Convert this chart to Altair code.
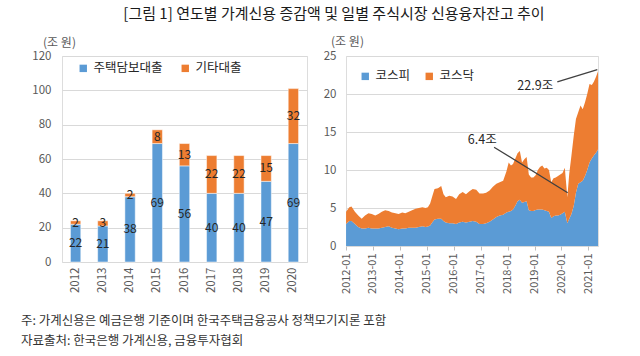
import altair as alt
import pandas as pd

FONT = "Noto Sans CJK KR"
BLUE = "#5B9BD5"
ORANGE = "#ED7D31"
TXT = "#262626"
AXC = "#595959"

title_text = "[그림 1] 연도별 가계신용 증감액 및 일별 주식시장 신용융자잔고 추이"
note1 = "주: 가계신용은 예금은행 기준이며 한국주택금융공사 정책모기지론 포함"
note2 = "자료출처: 한국은행 가계신용, 금융투자협회"

# ---- left panel data ----
years = ["2012", "2013", "2014", "2015", "2016", "2017", "2018", "2019", "2020"]
mortgage = [22, 21, 38, 69, 56, 40, 40, 47, 69]
other = [2, 3, 2, 8, 13, 22, 22, 15, 32]
loan_types = ["주택담보대출", "기타대출"]

# ---- right panel data ----
dates = [
    "2012-01-02", "2012-02-15", "2012-03-15", "2012-05-01", "2012-06-15", "2012-08-01",
    "2012-09-15", "2012-11-01", "2012-12-15", "2013-02-01", "2013-03-15", "2013-05-01",
    "2013-06-15", "2013-08-01", "2013-09-15", "2013-11-01", "2013-12-15", "2014-02-01",
    "2014-03-15", "2014-05-01", "2014-06-15", "2014-08-01", "2014-09-15", "2014-11-01",
    "2014-12-15", "2015-01-15", "2015-02-15", "2015-03-15", "2015-04-15", "2015-06-01",
    "2015-07-15", "2015-08-15", "2015-09-15", "2015-11-01", "2015-12-15", "2016-02-01",
    "2016-03-15", "2016-05-01", "2016-06-15", "2016-08-01", "2016-09-15", "2016-11-01",
    "2016-12-15", "2017-02-01", "2017-03-15", "2017-05-01", "2017-06-15", "2017-08-01",
    "2017-09-15", "2017-11-01", "2017-12-15", "2018-01-15", "2018-02-15", "2018-03-15",
    "2018-04-15", "2018-05-15", "2018-06-15", "2018-07-15", "2018-08-15", "2018-09-15",
    "2018-10-15", "2018-11-15", "2018-12-15", "2019-01-15", "2019-02-15", "2019-03-15",
    "2019-04-15", "2019-05-15", "2019-06-15", "2019-07-15", "2019-08-15", "2019-09-15",
    "2019-10-15", "2019-11-15", "2019-12-15", "2020-01-15", "2020-02-15", "2020-03-20",
    "2020-04-15", "2020-05-15", "2020-06-15", "2020-07-15", "2020-08-15", "2020-09-15",
    "2020-10-15", "2020-11-15", "2020-12-15", "2021-01-15", "2021-02-15", "2021-03-15",
    "2021-04-15", "2021-05-10",
]
kospi = [
    2.9, 3.3, 3.3, 2.9, 2.5, 2.3,
    2.3, 2.4, 2.3, 2.3, 2.3, 2.4,
    2.5, 2.6, 2.4, 2.3, 2.2, 2.3,
    2.3, 2.4, 2.4, 2.4, 2.5, 2.6,
    2.5, 2.55, 2.7, 3.1, 3.5, 3.6,
    3.6, 3.3, 3.1, 3.0, 3.0, 2.9,
    3.1, 3.2, 3.1, 3.2, 3.3, 3.2,
    2.9, 2.9, 3.0, 3.2, 3.5, 3.8,
    4.0, 4.1, 4.4, 4.5, 4.6, 4.8,
    5.3, 5.9, 6.1, 5.7, 5.8, 5.9,
    4.7, 4.6, 4.6, 4.75, 4.8, 4.8,
    4.8, 4.7, 4.6, 4.5, 3.7, 3.9,
    4.0, 4.0, 4.1, 4.3, 4.5, 3.0,
    3.6, 4.2, 5.3, 7.0, 8.2, 8.4,
    8.6, 9.2, 10.0, 11.0, 11.5, 11.9,
    12.3, 12.7,
]
kosdaq = [
    1.6, 1.8, 1.9, 1.6, 1.5, 1.3,
    1.7, 1.9, 1.9, 1.7, 1.9, 2.1,
    2.2, 2.0, 2.0, 2.0, 2.0, 2.1,
    2.0, 2.1, 2.3, 2.5, 2.5, 2.5,
    2.5, 2.55, 2.9, 3.4, 4.0, 4.0,
    4.3, 3.5, 3.3, 3.6, 3.5, 3.3,
    3.7, 3.9, 3.7, 4.0, 4.2, 4.2,
    4.0, 4.0, 4.0, 4.1, 4.3, 4.4,
    4.4, 4.5, 5.4, 6.5, 6.0, 6.0,
    6.2, 6.3, 6.4, 5.3, 5.6, 5.8,
    4.7, 4.4, 4.4, 4.55, 5.2, 5.6,
    5.8, 5.5, 5.7, 5.5, 4.7, 5.0,
    5.0, 5.2, 5.3, 5.3, 5.8, 3.4,
    5.9, 7.7, 9.2, 9.7, 9.4, 10.1,
    9.4, 9.7, 10.0, 10.3, 9.7, 9.7,
    10.0, 10.3,
]
markets = ["코스피", "코스닥"]

# annotations (label text, label position, leader line)
ann_text = ["22.9조", "6.4조"]
ann_text_date = ["2019-01-10", "2017-01-22"]
ann_text_val = [21.1, 14.0]
ann_line_from_date = ["2019-11-05", "2017-07-01"]
ann_line_from_val = [21.6, 13.0]
ann_line_to_date = ["2021-05-01", "2020-03-25"]
ann_line_to_val = [23.2, 7.0]

# ================= LEFT PANEL =================
bar_df = pd.DataFrame({
    "year": years * 2,
    "type": [loan_types[0]] * len(years) + [loan_types[1]] * len(years),
    "value": mortgage + other,
    "ord": [0] * len(years) + [1] * len(years),
})

lbase = alt.Chart(bar_df).transform_stack(
    stack="value", groupby=["year"], as_=["v0", "v1"],
    sort=[alt.SortField("ord", order="ascending")],
).transform_calculate(mid="(datum.v0 + datum.v1) / 2")

xband = alt.X(
    "year:N", sort=years,
    scale=alt.Scale(paddingInner=0.62, paddingOuter=0.31),
    axis=alt.Axis(title=None, labelAngle=270, ticks=False, domain=False, labelOverlap=False,
                  labelPadding=5, labelFontSize=11.5, labelColor=AXC, labelFont=FONT),
)
yleft = alt.Y("v0:Q", scale=alt.Scale(domain=[0, 120], nice=False),
              axis=alt.Axis(values=[0, 20, 40, 60, 80, 100, 120], tickCount=50, format="d",
                            title="(조 원)",
                            titleAngle=0, titleAlign="center", titleBaseline="middle",
                            titleX=-3, titleY=-14, titleFontSize=12, titleFont=FONT,
                            titleFontWeight="normal", titleColor=AXC, labelOverlap=False,
                            ticks=False, domain=False, labelPadding=11,
                            labelFontSize=11.5, labelColor=AXC, labelFont=FONT,
                            grid=True, gridColor="#d9d9d9"))

bars = lbase.mark_bar(stroke="white", strokeWidth=0.5).encode(
    x=xband,
    y=yleft,
    y2="v1:Q",
    color=alt.Color("type:N", scale=alt.Scale(domain=loan_types, range=[BLUE, ORANGE]),
                    legend=alt.Legend(orient="none", legendX=15, legendY=6, direction="horizontal",
                                      title=None, symbolType="square", symbolSize=55,
                                      symbolStrokeWidth=0, labelFontSize=12.5, labelFont=FONT,
                                      labelColor=TXT, columnPadding=16, labelOffset=4, padding=0)),
)

bar_labels = lbase.mark_text(fontSize=12, font=FONT, color=TXT).encode(
    x=alt.X("year:N", sort=years),
    y=alt.Y("mid:Q"),
    text="value:Q",
)

title_mark = alt.Chart(pd.DataFrame({"t": [title_text]})).mark_text(
    align="center", baseline="top", fontSize=15, font=FONT, color="#1a1a1a"
).encode(x=alt.value(272), y=alt.value(-49), text="t:N")

note1_mark = alt.Chart(pd.DataFrame({"t": [note1]})).mark_text(
    align="left", baseline="middle", fontSize=12.5, font=FONT, color="#333333"
).encode(x=alt.value(-41), y=alt.value(265), text="t:N")
note2_mark = alt.Chart(pd.DataFrame({"t": [note2]})).mark_text(
    align="left", baseline="middle", fontSize=12.5, font=FONT, color="#333333"
).encode(x=alt.value(-41), y=alt.value(285), text="t:N")

left = alt.layer(bars, bar_labels, title_mark, note1_mark, note2_mark).properties(
    width=245, height=206)

# ================= RIGHT PANEL =================
area_df = pd.DataFrame({
    "date": dates * 2,
    "market": [markets[0]] * len(dates) + [markets[1]] * len(dates),
    "value": kospi + kosdaq,
    "ord": [0] * len(dates) + [1] * len(dates),
})

rbase = alt.Chart(area_df).transform_stack(
    stack="value", groupby=["date"], as_=["v0", "v1"],
    sort=[alt.SortField("ord", order="ascending")],
)

xdom = [alt.DateTime(year=2012, month=1, date=1), alt.DateTime(year=2021, month=5, date=10)]
xtime = alt.X(
    "date:T",
    scale=alt.Scale(domain=xdom, nice=False),
    axis=alt.Axis(title=None, format="%Y-%m", labelAngle=270, labelOverlap=False, tickCount=50,
                  values=[alt.DateTime(year=y, month=1, date=1) for y in range(2012, 2022)],
                  ticks=True, tickSize=4, tickColor="#bfbfbf", domain=False, grid=False,
                  labelPadding=3, labelFontSize=11, labelColor=AXC, labelFont=FONT),
)

areas = rbase.mark_area(opacity=1).encode(
    x=xtime,
    y=alt.Y("v0:Q", scale=alt.Scale(domain=[0, 25], nice=False),
            axis=alt.Axis(values=[0, 5, 10, 15, 20, 25], tickCount=50, format="d",
                          title="(조 원)",
                          titleAngle=0, titleAlign="center", titleBaseline="middle",
                          titleX=1, titleY=-15, titleFontSize=12, titleFont=FONT,
                          titleFontWeight="normal", titleColor=AXC, labelOverlap=False,
                          ticks=False, domain=False, labelPadding=10,
                          labelFontSize=11.5, labelColor=AXC, labelFont=FONT,
                          grid=True, gridColor="#d9d9d9")),
    y2="v1:Q",
    color=alt.Color("market:N", scale=alt.Scale(domain=markets, range=[BLUE, ORANGE]),
                    legend=alt.Legend(orient="none", legendX=13, legendY=14, direction="horizontal",
                                      title=None, symbolType="square", symbolSize=55,
                                      symbolStrokeWidth=0, labelFontSize=12.5, labelFont=FONT,
                                      labelColor=TXT, columnPadding=12, labelOffset=4, padding=0)),
    order=alt.Order("ord:Q"),
)

ann_lines_df = pd.DataFrame({
    "d1": ann_line_from_date, "a1": ann_line_from_val,
    "d2": ann_line_to_date, "a2": ann_line_to_val,
})
ann_lines = alt.Chart(ann_lines_df).mark_rule(color="#404040", strokeWidth=1.3).encode(
    x=alt.X("d1:T"), x2="d2:T", y=alt.Y("a1:Q"), y2="a2:Q")

ann_text_df = pd.DataFrame({"t": ann_text, "d": ann_text_date, "v": ann_text_val})
ann_labels = alt.Chart(ann_text_df).mark_text(
    fontSize=12.5, font=FONT, color=TXT, align="center", baseline="middle"
).encode(x=alt.X("d:T"), y=alt.Y("v:Q"), text="t:N")

right = alt.layer(areas, ann_lines, ann_labels).properties(width=252, height=190)

chart = alt.hconcat(left, right, spacing=39, bounds="flush").resolve_scale(
    color="independent"
).properties(
    padding={"left": 20, "top": 6, "right": 5, "bottom": 4}
).configure_view(stroke="#c8c8c8", strokeWidth=1).configure(
    background="white"
)

chart.save("out.html", embed_options={"renderer": "svg", "actions": False})
